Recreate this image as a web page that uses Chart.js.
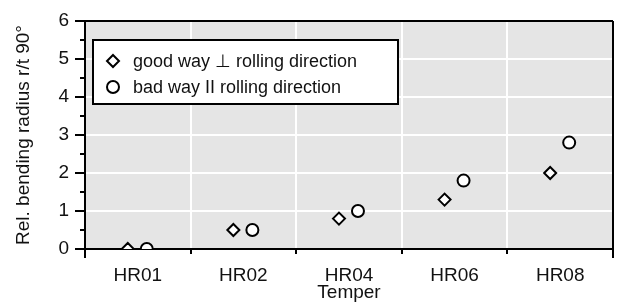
<!DOCTYPE html>
<html>
<head>
<meta charset="utf-8">
<script src="https://cdn.jsdelivr.net/npm/chart.js@4"></script>
<style>
html,body{margin:0;padding:0;background:#fff;}
#wrap{width:623px;height:302px;}
</style>
</head>
<body>
<div id="wrap"><canvas id="c" width="623" height="302"></canvas></div>
<script>
const categories = ["HR01", "HR02", "HR04", "HR06", "HR08"];
const goodWay = [0, 0.5, 0.8, 1.3, 2.0];
const badWay = [0, 0.5, 1.0, 1.8, 2.8];
const seriesLabels = ["good way \u22A5 rolling direction", "bad way II rolling direction"];
const yTicks = [0, 1, 2, 3, 4, 5, 6];
const yTitle = "Rel. bending radius r/t 90\u00B0";
const xTitle = "Temper";

const FONT = "'Liberation Sans', Arial, sans-serif";
const DODGE = [-0.095, 0.085];

function toPoints(arr, d) { return arr.map((v, i) => ({x: i + d, y: v})); }

const bgPlugin = {
  id: 'bg',
  beforeDraw(chart) {
    const a = chart.chartArea, ctx = chart.ctx;
    ctx.save();
    ctx.fillStyle = '#e5e5e5';
    ctx.fillRect(a.left, a.top, a.right - a.left, a.bottom - a.top);
    ctx.restore();
  },
  afterDraw(chart) {
    const a = chart.chartArea, ctx = chart.ctx;
    const y = chart.scales.y;
    ctx.save();
    ctx.strokeStyle = '#000';
    ctx.lineWidth = 2;
    ctx.beginPath();
    ctx.moveTo(a.left - 1, a.top); ctx.lineTo(a.right, a.top);
    ctx.moveTo(a.right, a.top); ctx.lineTo(a.right, a.bottom + 9);
    ctx.moveTo(a.left, a.bottom); ctx.lineTo(a.left, a.bottom + 9);
    ctx.stroke();
    // minor ticks
    ctx.beginPath();
    for (let i = 0; i < yTicks.length - 1; i++) {
      const v = (yTicks[i] + yTicks[i + 1]) / 2;
      const py = y.getPixelForValue(v);
      ctx.moveTo(a.left - 5, py); ctx.lineTo(a.left, py);
    }
    ctx.stroke();
    // legend
    const lx = a.left + 8, ly = a.top + 19, lw = 305, lh = 64;
    ctx.fillStyle = '#fff';
    ctx.fillRect(lx, ly, lw, lh);
    ctx.strokeRect(lx, ly, lw, lh);
    ctx.font = '18px ' + FONT;
    ctx.textBaseline = 'middle';
    ctx.textAlign = 'left';
    chart.data.datasets.forEach((ds, i) => {
      const cy = ly + 21 + i * 26;
      const cx = lx + 20;
      ctx.fillStyle = '#fff';
      ctx.strokeStyle = '#000';
      ctx.lineWidth = 2;
      ctx.beginPath();
      const r = ds.pointRadius;
      if (ds.pointStyle === 'circle') {
        ctx.arc(cx, cy, r, 0, Math.PI * 2);
      } else {
        ctx.moveTo(cx, cy - r); ctx.lineTo(cx + r, cy); ctx.lineTo(cx, cy + r); ctx.lineTo(cx - r, cy); ctx.closePath();
      }
      ctx.fill(); ctx.stroke();
      ctx.fillStyle = '#111';
      ctx.fillText(ds.label, lx + 40, cy + 1);
    });
    ctx.restore();
  }
};

new Chart(document.getElementById('c'), {
  type: 'scatter',
  data: {
    datasets: [
      {label: seriesLabels[0], data: toPoints(goodWay, DODGE[0]), xAxisID: 'x2', pointStyle: 'rectRot', pointRadius: 6, pointHoverRadius: 6, backgroundColor: '#fff', borderColor: '#000', borderWidth: 2},
      {label: seriesLabels[1], data: toPoints(badWay, DODGE[1]), xAxisID: 'x2', pointStyle: 'circle', pointRadius: 6, pointHoverRadius: 6, backgroundColor: '#fff', borderColor: '#000', borderWidth: 2}
    ]
  },
  options: {
    responsive: false,
    animation: false,
    devicePixelRatio: 1,
    layout: {padding: {left: 0, right: 10, top: 21, bottom: 0}},
    plugins: {legend: {display: false}, tooltip: {enabled: false}},
    scales: {
      x: {
        type: 'category',
        labels: categories,
        offset: true,
        position: 'bottom',
        grid: {offset: true, color: '#fff', lineWidth: 2, tickColor: '#000', tickLength: 5, tickWidth: 2},
        border: {color: '#000', width: 2},
        ticks: {color: '#111', font: {family: FONT, size: 19}, padding: 10, maxRotation: 0},
        title: {display: true, text: xTitle, color: '#111', font: {family: FONT, size: 19, lineHeight: 1}, padding: {top: 0, bottom: 0}},
        afterFit(s) { s.height = 53; }
      },
      x2: {
        type: 'linear',
        display: false,
        min: -0.5,
        max: categories.length - 0.5
      },
      y: {
        type: 'linear',
        min: yTicks[0],
        max: yTicks[yTicks.length - 1],
        afterBuildTicks(s) { s.ticks = yTicks.map(v => ({value: v})); },
        grid: {color: '#fff', lineWidth: 2, tickColor: '#000', tickLength: 10, tickWidth: 2},
        border: {color: '#000', width: 2},
        ticks: {color: '#111', font: {family: FONT, size: 19}, padding: 6},
        title: {display: true, text: yTitle, color: '#111', font: {family: FONT, size: 19, lineHeight: 1}, padding: {top: 14, bottom: 0}},
        afterFit(s) { s.width = 85; }
      }
    }
  },
  plugins: [bgPlugin]
});
</script>
</body>
</html>
